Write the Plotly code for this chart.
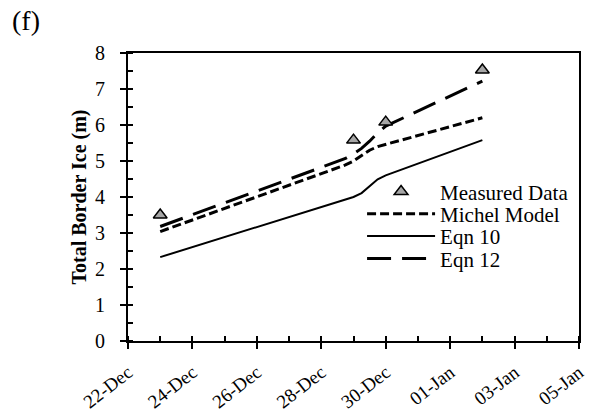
import plotly.graph_objects as go

# ---- data ----
measured_dates = ["2013-12-23", "2013-12-29", "2013-12-30", "2014-01-02"]
measured_ice = [3.5, 5.58, 6.08, 7.53]

model_dates = ["2013-12-23", "2013-12-25", "2013-12-27", "2013-12-28",
               "2013-12-28 18:00", "2013-12-29", "2013-12-29 06:00",
               "2013-12-29 12:00", "2013-12-29 18:00", "2013-12-30",
               "2013-12-31", "2014-01-01", "2014-01-02"]
michel_model = [3.04, 3.68, 4.33, 4.65, 4.89, 5.0, 5.15, 5.3, 5.4, 5.46, 5.7, 5.95, 6.2]
eqn10 = [2.33, 2.89, 3.44, 3.72, 3.93, 4.0, 4.11, 4.3, 4.49, 4.6, 4.93, 5.26, 5.58]
eqn12 = [3.18, 3.83, 4.49, 4.82, 5.07, 5.2, 5.35, 5.55, 5.78, 5.97, 6.39, 6.8, 7.22]

x_range = ["2013-12-22", "2014-01-05"]
y_range = [0, 8]

FONT = "Times New Roman, Liberation Serif, serif"
DAY = 86400000

fig = go.Figure()
fig.add_trace(go.Scatter(x=model_dates, y=michel_model, mode="lines", name="Michel Model",
                         line=dict(color="black", width=3, dash="9px,4px"), legend="legend2",
                         showlegend=True))
fig.add_trace(go.Scatter(x=model_dates, y=eqn10, mode="lines", name="Eqn 10",
                         line=dict(color="black", width=2), legend="legend3", showlegend=True))
fig.add_trace(go.Scatter(x=model_dates, y=eqn12, mode="lines", name="Eqn 12",
                         line=dict(color="black", width=3, dash="24px,11px"), legend="legend4",
                         showlegend=True))
fig.add_trace(go.Scatter(x=measured_dates, y=measured_ice, mode="markers", name="Measured Data",
                         marker=dict(symbol="triangle-up", size=12, color="#a6a6a6",
                                     line=dict(color="black", width=1.5)), legend="legend",
                         showlegend=True))

def leg(y):
    return dict(x=0.519, y=y, xanchor="left", yanchor="middle", itemwidth=68,
                bgcolor="rgba(0,0,0,0)", font=dict(family=FONT, size=21, color="black"))

fig.update_layout(
    width=590, height=414,
    margin=dict(l=128, r=11, t=53, b=73),
    paper_bgcolor="white", plot_bgcolor="white",
    font=dict(family=FONT, size=20, color="black"),
    showlegend=True,
    legend=leg(0.518), legend2=leg(0.441), legend3=leg(0.363), legend4=leg(0.285),
    xaxis=dict(type="date", range=x_range, tick0="2013-12-22", dtick=2 * DAY,
               tickformat="%d-%b", tickangle=-38, ticks="outside", ticklen=6, tickwidth=2,
               tickcolor="black", showline=True, linecolor="black", linewidth=2, mirror=True,
               showgrid=False, zeroline=False, automargin=False, ticklabelstandoff=5,
               minor=dict(ticks="inside", dtick=DAY, tick0="2013-12-22", ticklen=5,
                          tickwidth=1.5, tickcolor="black", showgrid=False),
               tickfont=dict(family=FONT, size=19, color="black")),
    xaxis2=dict(type="date", overlaying="x", anchor="y", range=x_range, tick0="2013-12-22",
                dtick=2 * DAY, ticks="inside", ticklen=6, tickwidth=2, tickcolor="black",
                showticklabels=False, showline=False, showgrid=False, zeroline=False),
    yaxis=dict(range=y_range, dtick=1, ticks="outside", ticklen=6, tickwidth=2,
               tickcolor="black", showline=True, linecolor="black", linewidth=2, mirror=True,
               showgrid=False, zeroline=False, automargin=False, ticklabelstandoff=11,
               minor=dict(ticks="inside", dtick=0.5, ticklen=5, tickwidth=1.5,
                          tickcolor="black", showgrid=False),
               tickfont=dict(family=FONT, size=20, color="black"),
               title=dict(text="<b>Total Border Ice (m)</b>", standoff=3,
                          font=dict(family=FONT, size=20, color="black"))),
    yaxis2=dict(overlaying="y", anchor="x", range=y_range, dtick=1, ticks="inside",
                ticklen=6, tickwidth=2, tickcolor="black", showticklabels=False,
                showline=False, showgrid=False, zeroline=False),
    annotations=[dict(text="(f)", xref="paper", yref="paper", x=-0.262, y=1.172,
                      xanchor="left", yanchor="top", showarrow=False,
                      font=dict(family=FONT, size=28, color="black"))],
)

fig.write_html("out.html")
